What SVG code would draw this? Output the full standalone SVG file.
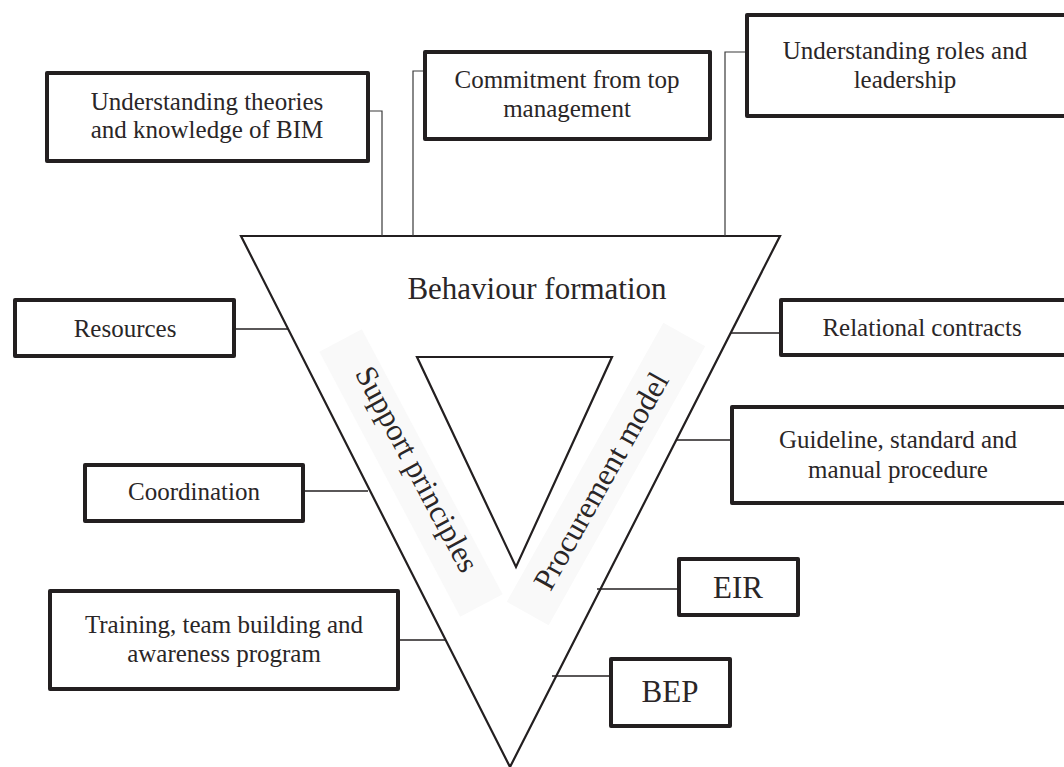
<svg xmlns="http://www.w3.org/2000/svg" width="1064" height="767" viewBox="0 0 1064 767">
<style>
.box{fill:#fff;stroke:#231f20;stroke-width:4;stroke-linejoin:round}
.t{font-family:"Liberation Serif","Times New Roman",serif;font-size:25px;fill:#2a2627;text-anchor:middle}
.big{font-size:31px}
.tri{fill:none;stroke:#231f20;stroke-width:2.2;stroke-linejoin:miter}
.con{fill:none;stroke:#231f20;stroke-width:1.6}
.thin{fill:none;stroke:#3a3a3a;stroke-width:1.2}
.band{fill:#f9f9f9}
</style>
<rect width="1064" height="767" fill="#fff"/>
<g id="triangle">
  <polygon class="tri" points="241,236 780,236 510,767"/>
  <rect class="band" x="-150" y="-24" width="300" height="48" transform="translate(411,473) rotate(62)"/>
  <rect class="band" x="-160" y="-24" width="320" height="48" transform="translate(606,474) rotate(-60.7)"/>
  <polygon class="tri" points="417,357 612,357 516,567"/>
  <text class="t big" x="537" y="299">Behaviour formation</text>
  <text class="t big" transform="translate(408,474) rotate(62)">Support principles</text>
  <text class="t big" transform="translate(610,486) rotate(-60.7)">Procurement model</text>
</g>
<g id="connectors">
  <polyline class="thin" points="370,111 382,111 382,236"/>
  <polyline class="thin" points="423,71 413,71 413,236"/>
  <polyline class="thin" points="745,52 725,52 725,236"/>
  <line class="con" x1="236" y1="329" x2="288" y2="329"/>
  <line class="con" x1="305" y1="491" x2="368" y2="491"/>
  <line class="con" x1="400" y1="640" x2="446" y2="640"/>
  <line class="con" x1="731" y1="333" x2="779" y2="333"/>
  <line class="con" x1="677" y1="440" x2="730" y2="440"/>
  <line class="con" x1="597" y1="589" x2="677" y2="589"/>
  <line class="con" x1="552" y1="676" x2="609" y2="676"/>
</g>
<g id="n-theories">
  <rect class="box" x="47" y="73" width="321" height="88"/>
  <text class="t" x="207" y="110">Understanding theories</text>
  <text class="t" x="207" y="138">and knowledge of BIM</text>
</g>
<g id="n-commitment">
  <rect class="box" x="425" y="52" width="285" height="87"/>
  <text class="t" x="567" y="88">Commitment from top</text>
  <text class="t" x="567" y="117">management</text>
</g>
<g id="n-roles">
  <rect class="box" x="747" y="15" width="320" height="101"/>
  <text class="t" x="905" y="59">Understanding roles and</text>
  <text class="t" x="905" y="88">leadership</text>
</g>
<g id="n-resources">
  <rect class="box" x="15" y="300" width="219" height="56"/>
  <text class="t" x="125" y="337">Resources</text>
</g>
<g id="n-coordination">
  <rect class="box" x="85" y="465" width="218" height="56"/>
  <text class="t" x="194" y="500">Coordination</text>
</g>
<g id="n-training">
  <rect class="box" x="50" y="591" width="348" height="98"/>
  <text class="t" x="224" y="633">Training, team building and</text>
  <text class="t" x="224" y="662">awareness program</text>
</g>
<g id="n-relational">
  <rect class="box" x="781" y="300" width="286" height="55"/>
  <text class="t" x="922" y="336">Relational contracts</text>
</g>
<g id="n-guideline">
  <rect class="box" x="732" y="407" width="335" height="96"/>
  <text class="t" x="898" y="448">Guideline, standard and</text>
  <text class="t" x="898" y="478">manual procedure</text>
</g>
<g id="n-eir">
  <rect class="box" x="679" y="559" width="119" height="56"/>
  <text class="t big" x="738" y="598">EIR</text>
</g>
<g id="n-bep">
  <rect class="box" x="611" y="659" width="119" height="67"/>
  <text class="t big" x="670" y="702">BEP</text>
</g>
</svg>
